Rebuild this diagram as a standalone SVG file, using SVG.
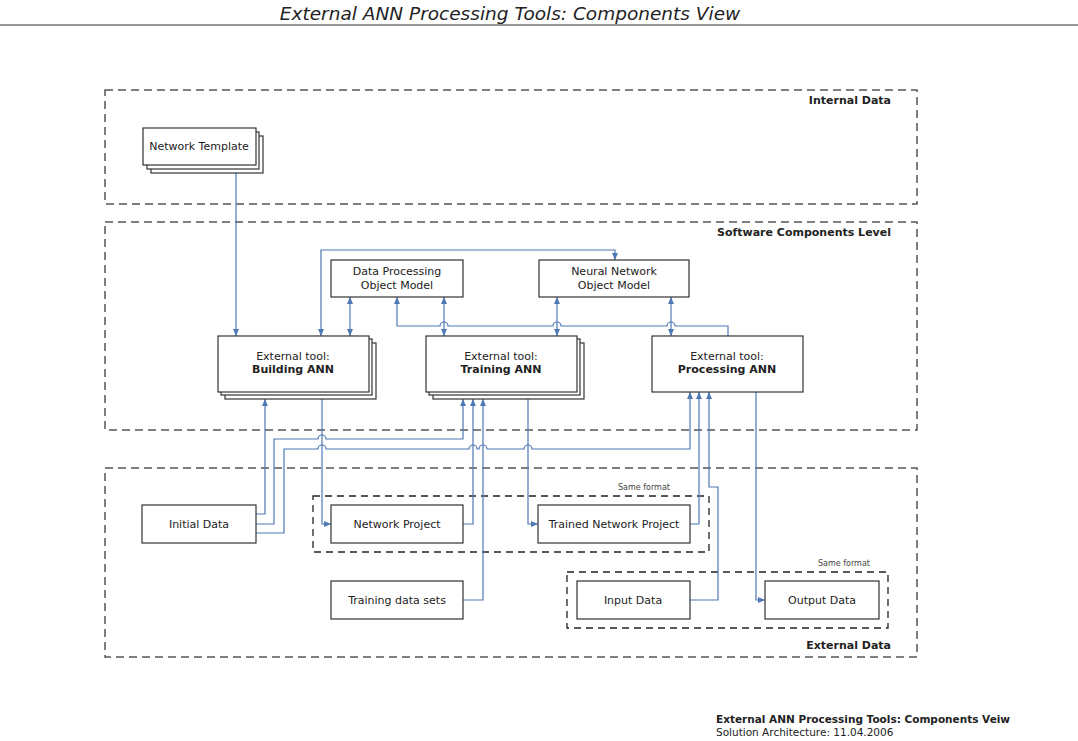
<svg xmlns="http://www.w3.org/2000/svg" width="1078" height="741" viewBox="0 0 1078 741">
<defs>
<style>
text{font-family:"DejaVu Sans","Liberation Sans",sans-serif;fill:#222}
.t{font-size:11px;text-anchor:middle}
.b{font-weight:bold}
.sec{font-size:11px;font-weight:bold;text-anchor:end}
.sm{font-size:8px;fill:#444}
.box{fill:#fff;stroke:#333;stroke-width:1.2}
.zone{fill:none;stroke:#555;stroke-width:1.5;stroke-dasharray:8,5}
.grp{fill:none;stroke:#222;stroke-width:1.3;stroke-dasharray:7,5}
.c{fill:none;stroke:#4f79b5;stroke-width:1.2}
.ae{marker-end:url(#ar)}
.as{marker-start:url(#ar)}
</style>
<marker id="ar" viewBox="0 0 7 6" refX="7" refY="3" markerWidth="7" markerHeight="6" markerUnits="userSpaceOnUse" orient="auto-start-reverse">
<path d="M0,0 L7,3 L0,6 z" fill="#4f79b5"/>
</marker>
</defs>
<rect width="1078" height="741" fill="#fff"/>
<text x="510" y="20" style="font-size:18.5px;font-style:italic;text-anchor:middle">External ANN Processing Tools: Components View</text>
<line x1="0" y1="25" x2="1078" y2="25" stroke="#333" stroke-width="1.2"/>

<g id="zones">
<rect class="zone" x="105" y="90" width="812" height="114"/>
<text class="sec" x="891" y="104">Internal Data</text>
<rect class="zone" x="105" y="222" width="812" height="208"/>
<text class="sec" x="891" y="236">Software Components Level</text>
<rect class="zone" x="105" y="468" width="812" height="189"/>
<text class="sec" x="891" y="649">External Data</text>
<rect class="grp" x="313" y="496" width="396" height="56"/>
<text class="sm" x="618" y="490">Same format</text>
<rect class="grp" x="567" y="572" width="321" height="56"/>
<text class="sm" x="818" y="566">Same format</text>
</g>

<g id="connectors">
<path class="c ae" d="M236,173 V336"/>
<path class="c as ae" d="M321,336 V250 H615 V260"/>
<path class="c as ae" d="M350,336 V297"/>
<path class="c as ae" d="M444,336 V297"/>
<path class="c as ae" d="M557,336 V297"/>
<path class="c as ae" d="M671,336 V297"/>
<path class="c as" d="M397,297 V326 H440 a4,4 0 0 1 8,0 H553 a4,4 0 0 1 8,0 H667 a4,4 0 0 1 8,0 H728 V336"/>
<path class="c ae" d="M256,514 H265 V399"/>
<path class="c ae" d="M322,399 V524 H331"/>
<path class="c ae" d="M256,524 H274 V439 H318 a4,4 0 0 1 8,0 H463 V399"/>
<path class="c ae" d="M256,533 H284 V449 H318 a4,4 0 0 1 8,0 H469 a4,4 0 0 1 8,0 H479 a4,4 0 0 1 8,0 H524 a4,4 0 0 1 8,0 H690 V392"/>
<path class="c ae" d="M463,524 H473 V399"/>
<path class="c ae" d="M463,600 H483 V399"/>
<path class="c ae" d="M528,399 V524 H538"/>
<path class="c ae" d="M690,524 H699 V392"/>
<path class="c ae" d="M690,600 H718 V487 H709 V392"/>
<path class="c ae" d="M756,392 V600 H765"/>
</g>

<g id="network-template">
<rect class="box" x="151" y="136" width="112" height="37"/>
<rect class="box" x="147" y="132" width="112" height="37"/>
<rect class="box" x="143" y="128" width="113" height="37"/>
<text class="t" x="199" y="150">Network Template</text>
</g>

<g id="dpom">
<rect class="box" x="331" y="260" width="132" height="37"/>
<text class="t" x="397" y="275">Data Processing</text>
<text class="t" x="397" y="289">Object Model</text>
</g>

<g id="nnom">
<rect class="box" x="539" y="260" width="150" height="37"/>
<text class="t" x="614" y="275">Neural Network</text>
<text class="t" x="614" y="289">Object Model</text>
</g>

<g id="building-ann">
<rect class="box" x="225" y="343" width="151" height="56"/>
<rect class="box" x="221" y="339" width="151" height="56"/>
<rect class="box" x="218" y="336" width="151" height="56"/>
<text class="t" x="293" y="360">External tool:</text>
<text class="t b" x="293" y="373">Building ANN</text>
</g>

<g id="training-ann">
<rect class="box" x="433" y="343" width="151" height="56"/>
<rect class="box" x="429" y="339" width="151" height="56"/>
<rect class="box" x="426" y="336" width="151" height="56"/>
<text class="t" x="501" y="360">External tool:</text>
<text class="t b" x="501" y="373">Training ANN</text>
</g>

<g id="processing-ann">
<rect class="box" x="652" y="336" width="151" height="56"/>
<text class="t" x="727" y="360">External tool:</text>
<text class="t b" x="727" y="373">Processing ANN</text>
</g>

<g id="initial-data">
<rect class="box" x="142" y="505" width="114" height="38"/>
<text class="t" x="199" y="528">Initial Data</text>
</g>

<g id="network-project">
<rect class="box" x="331" y="505" width="132" height="38"/>
<text class="t" x="397" y="528">Network Project</text>
</g>

<g id="trained-network-project">
<rect class="box" x="538" y="505" width="152" height="38"/>
<text class="t" x="614" y="528">Trained Network Project</text>
</g>

<g id="training-data-sets">
<rect class="box" x="331" y="581" width="132" height="38"/>
<text class="t" x="397" y="604">Training data sets</text>
</g>

<g id="input-data">
<rect class="box" x="577" y="581" width="113" height="38"/>
<text class="t" x="633" y="604">Input Data</text>
</g>

<g id="output-data">
<rect class="box" x="765" y="581" width="114" height="38"/>
<text class="t" x="822" y="604">Output Data</text>
</g>

<text x="716" y="723" style="font-size:10.5px;font-weight:bold">External ANN Processing Tools: Components Veiw</text>
<text x="716" y="736" style="font-size:10.5px">Solution Architecture: 11.04.2006</text>
</svg>
